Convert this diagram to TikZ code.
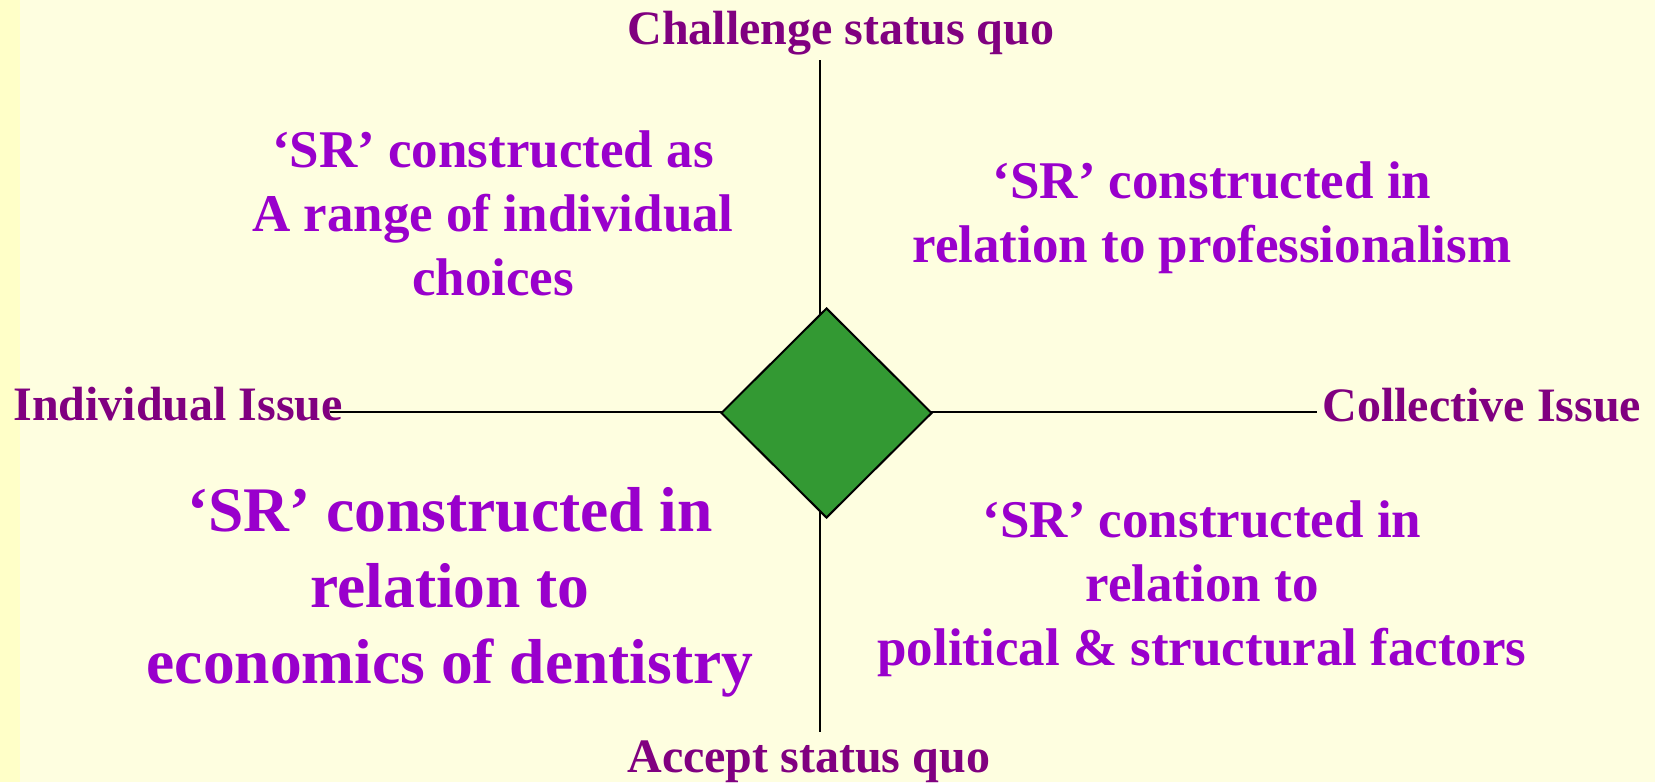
\documentclass[tikz,border=0pt]{standalone}
\usepackage{fontspec}
\setmainfont{Liberation Serif}
\usepackage{xcolor}
\usepackage{tikz}
\usetikzlibrary{shapes.geometric}
\definecolor{paper}{HTML}{FEFEE0}
\definecolor{margin}{HTML}{FFFFC8}
\definecolor{axistext}{HTML}{800080}
\definecolor{quadtext}{HTML}{9900CC}
\definecolor{hubgreen}{HTML}{339933}
\tikzset{
  axisline/.style={draw=black, line width=1pt},
  axislbl/.style={text=axistext, font=\bfseries\fontsize{24}{28}\selectfont, inner sep=0pt},
  quad/.style={text=quadtext, font=\bfseries\fontsize{26.5}{32}\selectfont, align=center, inner sep=0pt, anchor=base},
  quadbig/.style={quad, font=\bfseries\fontsize{31.75}{38}\selectfont},
  hub/.style={diamond, draw=black, line width=1pt, fill=hubgreen, inner sep=0pt,
    minimum width=105.5pt, minimum height=105pt}
}

\begin{document}
\begin{tikzpicture}[x=0.5pt,y=-0.5pt]
  % page
  \useasboundingbox (0,0) rectangle (1655,782);
  \fill[paper] (0,0) rectangle (1655,782);
  \fill[margin] (0,0) rectangle (20,782);
  % axes
  \coordinate (axw) at (330,411.5);
  \coordinate (axe) at (1317,411.5);
  \coordinate (axn) at (820,60);
  \coordinate (axs) at (820,732);
  \draw[axisline] (axw) -- (axe);
  \draw[axisline] (axn) -- (axs);
  \node[hub] (hub) at (826.5,413) {};
  % axis labels
  \node[axislbl, anchor=base west] (challenge) at (627,44) {Challenge status quo};
  \node[axislbl, anchor=base west] (accept) at (627,772) {Accept status quo};
  \node[axislbl, anchor=base west] (individual) at (13,420) {Individual Issue};
  \node[axislbl, anchor=base west] (collective) at (1322,421) {Collective Issue};
  % quadrants (base = last line)
  \node[quad] (choices) at (493,295) {‘SR’ constructed as\\A range of individual\\choices};
  \node[quad] (profession) at (1212,262) {‘SR’ constructed in\\relation to professionalism};
  \node[quadbig] (economics) at (450,683) {‘SR’ constructed in\\relation to\\economics of dentistry};
  \node[quad] (political) at (1202,665) {‘SR’ constructed in\\relation to\\political \& structural factors};
\end{tikzpicture}
\end{document}
